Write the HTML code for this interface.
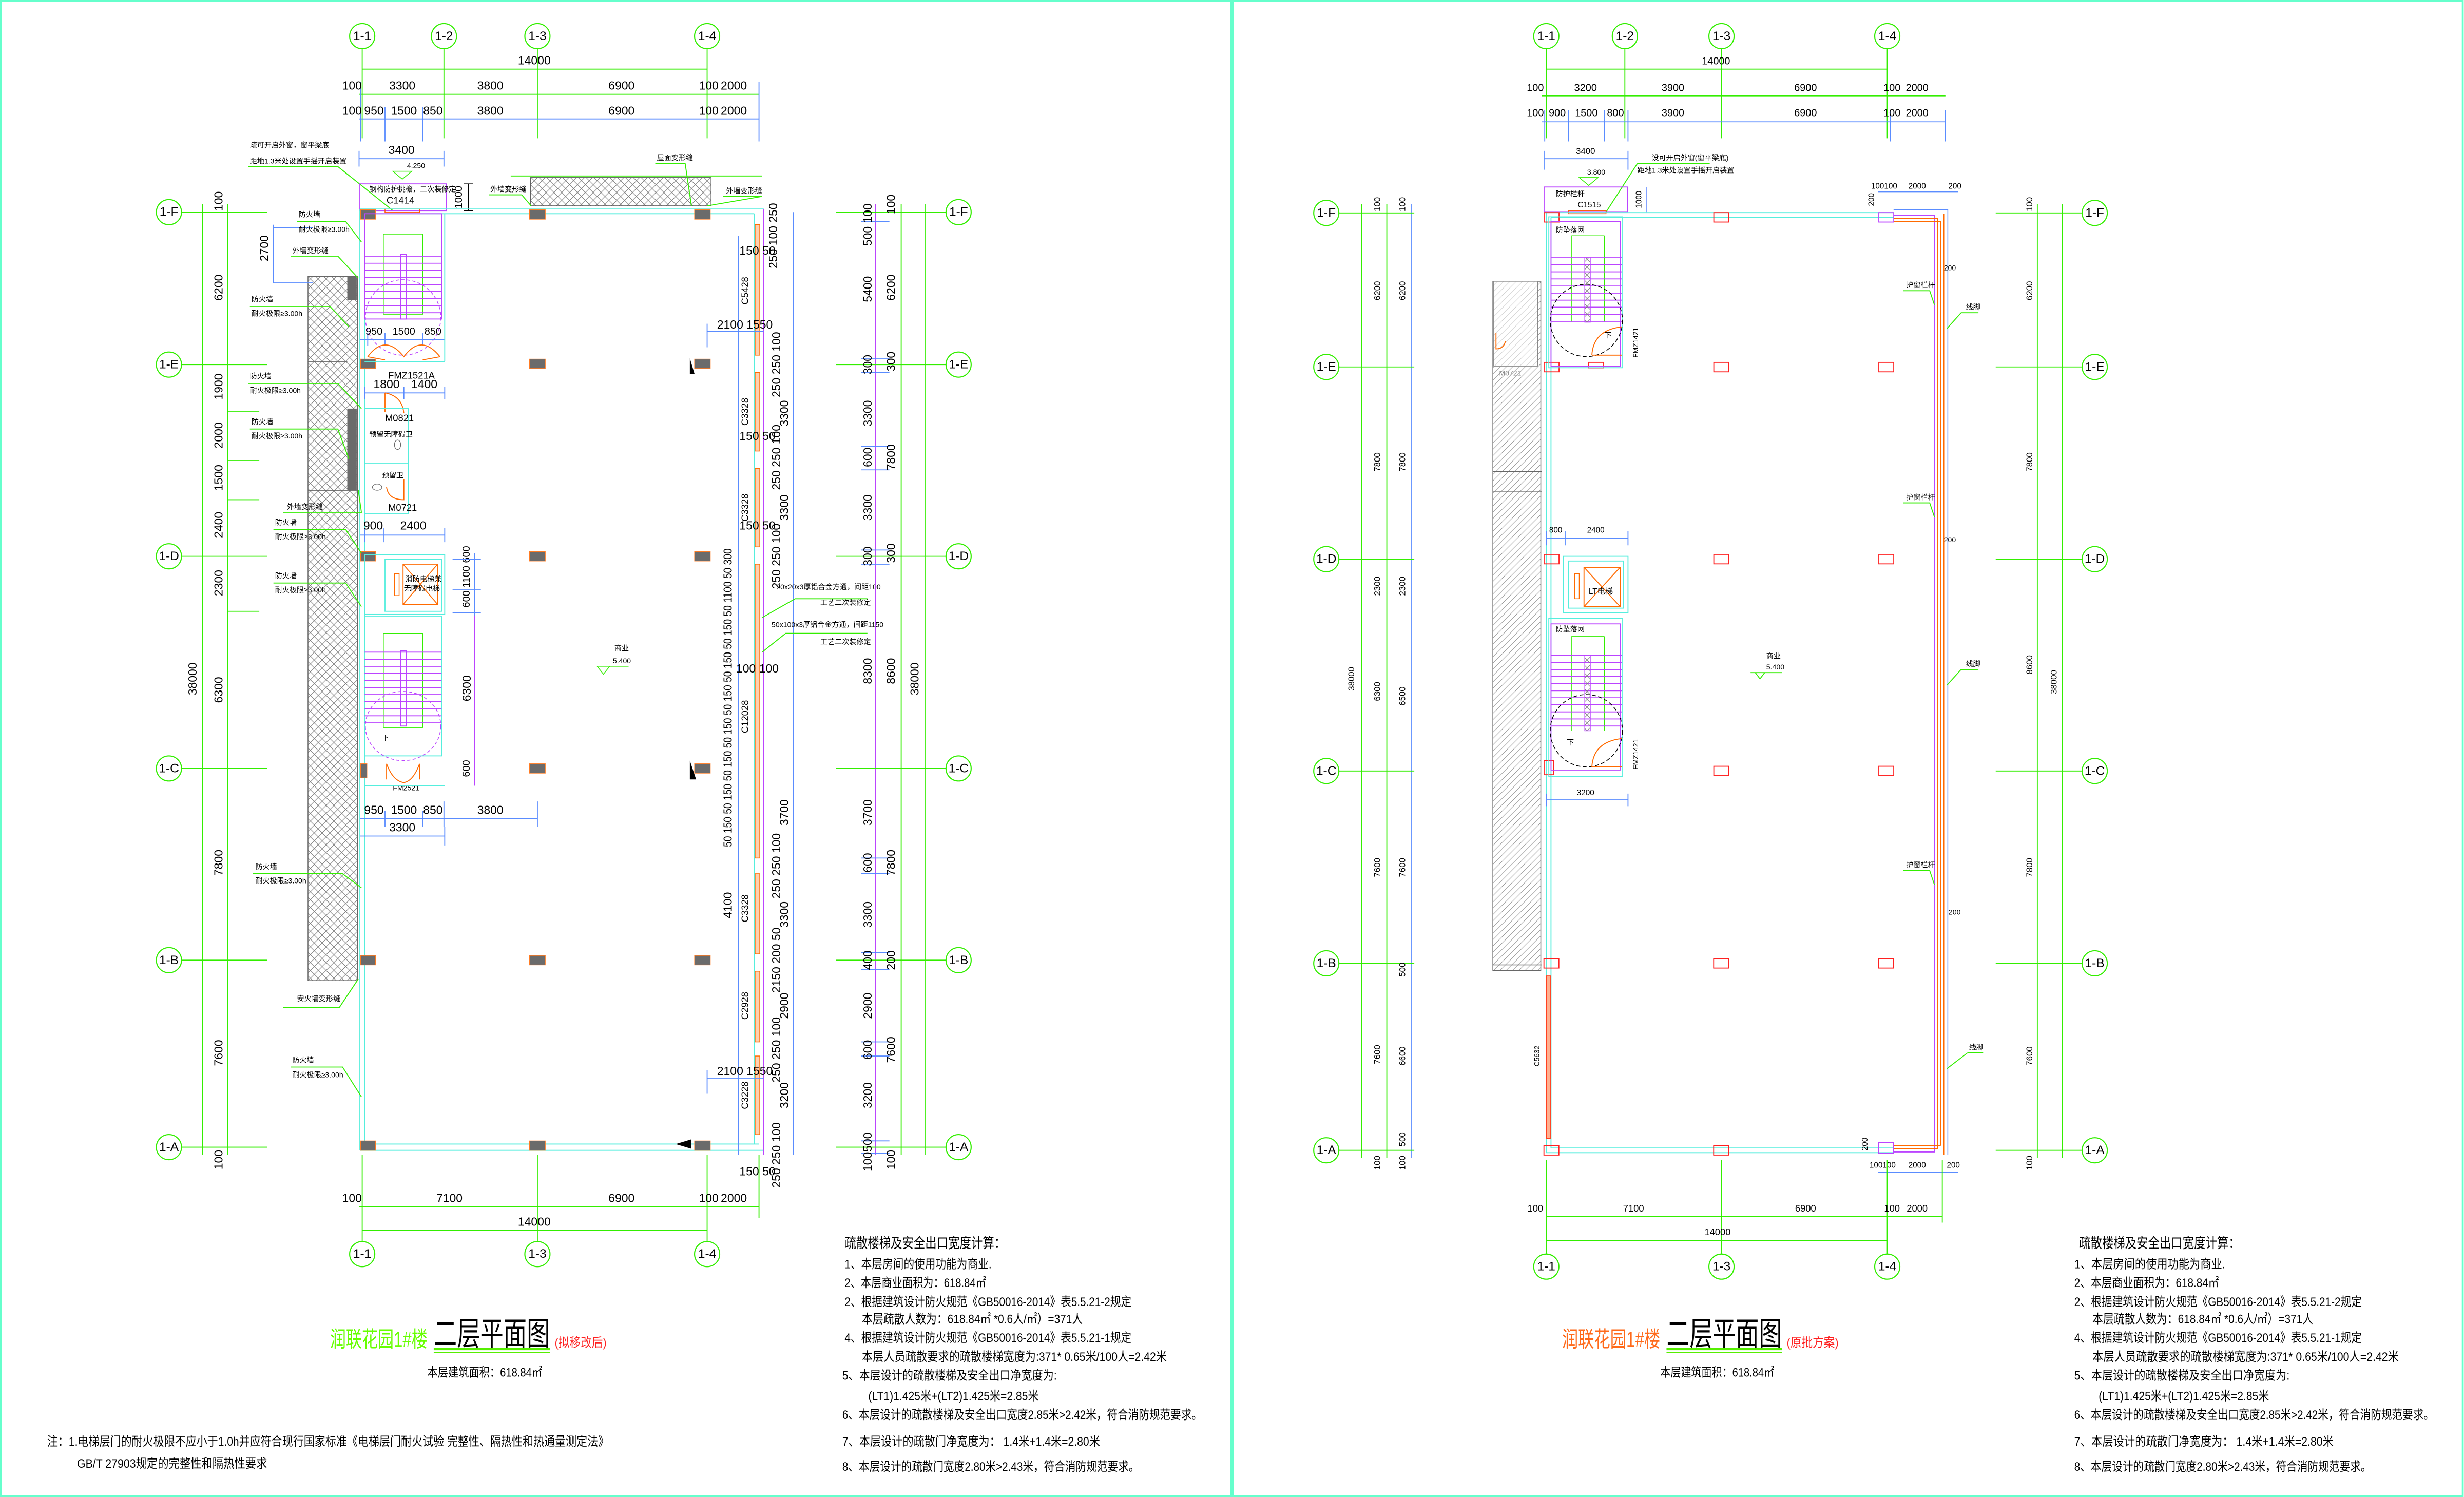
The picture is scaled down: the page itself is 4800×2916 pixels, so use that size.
<!DOCTYPE html>
<html><head><meta charset="utf-8">
<style>
html,body{margin:0;padding:0;background:#fff;}
svg{display:block;}
.d{font-family:"Liberation Sans",sans-serif;font-size:7.5px;text-anchor:middle;fill:#000;}
.r{font-family:"Liberation Sans",sans-serif;font-size:7.5px;text-anchor:middle;dominant-baseline:central;fill:#000;}
.s{font-family:"Liberation Sans","Noto Sans CJK SC",sans-serif;font-size:4.6px;fill:#000;}
.m{font-family:"Liberation Sans","Noto Sans CJK SC",sans-serif;font-size:6px;fill:#000;}
.n{font-family:"Liberation Sans","Noto Sans CJK SC",sans-serif;font-size:8px;fill:#000;}
.b{font-family:"Liberation Sans",sans-serif;font-size:8px;text-anchor:middle;dominant-baseline:central;fill:#000;}
.g{stroke:#33ee00;stroke-width:.6;fill:none;}
.bl{stroke:#5a8cff;stroke-width:.6;fill:none;}
.cy{stroke:#55eedd;stroke-width:.6;fill:none;}
.pu{stroke:#bb44ff;stroke-width:.6;fill:none;}
.or{stroke:#ff6a00;stroke-width:.6;fill:none;}
.col{fill:#6b6b6b;stroke:#ff7a20;stroke-width:.4;}
.rc{fill:none;stroke:#ff2020;stroke-width:.6;}
.bub{fill:#fff;stroke:#33ee00;stroke-width:.7;}
</style></head>
<body>
<svg width="4800" height="2916" viewBox="0 0 1568 952.6" preserveAspectRatio="none" xmlns="http://www.w3.org/2000/svg">
<defs>
<pattern id="xh" patternUnits="userSpaceOnUse" width="5" height="5">
<path d="M0,0L5,5M5,0L0,5" stroke="#777" stroke-width=".35"/>
</pattern>
<pattern id="dh" patternUnits="userSpaceOnUse" width="4" height="4">
<path d="M0,4L4,0M-1,1L1,-1M3,5L5,3" stroke="#888" stroke-width=".3"/>
</pattern>
</defs>
<rect x="0" y="0" width="1568" height="952.6" fill="#fff"/>
<rect x=".6" y=".6" width="783" height="951.4" fill="none" stroke="#66ffcc" stroke-width="1.2"/>
<rect x="784.6" y=".6" width="782.6" height="951.4" fill="none" stroke="#66ffcc" stroke-width="1.2"/>

<!-- ================= LEFT PANEL ================= -->
<g>
<!-- top grid -->
<path class="g" d="M230.5,31V88M282.5,31V88M342,31V88M450,31V88"/>
<path class="g" d="M230.5,44H450M228.5,60H483"/>
<path class="bl" d="M228.5,75.7H483M229.5,52V90M245,68V90M269,68V90M483,52V90"/>
<text class="d" x="340" y="41">14000</text>
<text class="d" x="224" y="57">100</text><text class="d" x="256" y="57">3300</text><text class="d" x="312" y="57">3800</text><text class="d" x="395.5" y="57">6900</text><text class="d" x="451" y="57">100</text><text class="d" x="467" y="57">2000</text>
<text class="d" x="224" y="73">100</text><text class="d" x="238" y="73">950</text><text class="d" x="257" y="73">1500</text><text class="d" x="275.5" y="73">850</text><text class="d" x="312" y="73">3800</text><text class="d" x="395.5" y="73">6900</text><text class="d" x="451" y="73">100</text><text class="d" x="467" y="73">2000</text>
<circle class="bub" cx="230.5" cy="23" r="8"/><text class="b" x="230.5" y="23">1-1</text>
<circle class="bub" cx="282.5" cy="23" r="8"/><text class="b" x="282.5" y="23">1-2</text>
<circle class="bub" cx="342" cy="23" r="8"/><text class="b" x="342" y="23">1-3</text>
<circle class="bub" cx="450" cy="23" r="8"/><text class="b" x="450" y="23">1-4</text>

<!-- 3400 and top labels -->
<path class="bl" d="M228.5,101H282.5M228.5,96V106M282.5,96V106"/>
<text class="d" x="255.5" y="98">3400</text>
<text class="s" x="159" y="94">疏可开启外窗，窗平梁底</text>
<text class="s" x="159" y="104">距地1.3米处设置手摇开启装置</text>
<path class="g" d="M158,106H215L250,134"/>
<text class="s" x="259" y="107">4.250</text>
<path d="M250,109H262L256,114Z" fill="none" stroke="#33ee00" stroke-width=".5"/>
<rect x="229" y="117" width="55" height="17" class="pu"/>
<text class="s" x="235" y="122">钢构防护挑檐，二次装修定</text>
<text class="m" x="246" y="129.5">C1414</text>
<rect x="245" y="133" width="22" height="2.2" fill="none" stroke="#ff5500" stroke-width=".5"/>
<path d="M298,117V134M295,117H301M295,134H301" stroke="#000" stroke-width=".5"/>
<text class="r" transform="translate(292,125.5) rotate(-90)" style="font-size:6.5px">1000</text>
<path class="g" d="M325,112H485"/>
<rect x="337.5" y="113" width="115" height="18" fill="url(#xh)" stroke="#555" stroke-width=".5"/>
<text class="s" x="312" y="122">外墙变形缝</text>
<text class="s" x="418" y="102">屋面变形缝</text>
<text class="s" x="462" y="123">外墙变形缝</text>
<path class="g" d="M311,124H332L338,131M417,104H436L440,131M460,125H485L450,131"/>

<!-- building outline -->
<path class="cy" d="M229,133H486M232,136H480M229,133V732M232,136V728M232,728H483M229,732H486M480,136V728"/>
<path class="pu" d="M486,133V735" style="stroke-width:.8"/>
<path class="bl" d="M470,150V735M505,135V735"/>
<!-- orange window strips right -->
<g fill="#ffd0b0" stroke="#ff6a00" stroke-width=".5">
<rect x="480.5" y="143" width="3" height="83"/>
<rect x="480.5" y="237" width="3" height="50"/>
<rect x="480.5" y="298" width="3" height="50"/>
<rect x="480.5" y="359" width="3" height="187"/>
<rect x="480.5" y="556" width="3" height="51"/>
<rect x="480.5" y="618" width="3" height="45"/>
<rect x="480.5" y="672" width="3" height="50"/>
</g>

<!-- left hatch strip -->
<rect x="196" y="176" width="31.5" height="448" fill="url(#xh)" stroke="#666" stroke-width=".5"/>
<rect x="221" y="176" width="6" height="15" fill="#6b6b6b"/>
<rect x="221" y="260" width="6" height="52" fill="#6b6b6b"/>
<path d="M196,312H227M196,230H221" stroke="#666" stroke-width=".5"/>

<!-- columns -->
<rect class="col" x="229.5" y="133.5" width="9.5" height="6"/><rect class="col" x="337" y="133.5" width="10" height="6"/><rect class="col" x="442" y="133.5" width="10" height="6"/>
<rect class="col" x="229.5" y="228.5" width="9.5" height="6"/><rect class="col" x="337" y="228.5" width="10" height="6"/><rect class="col" x="442" y="228.5" width="10" height="6"/>
<rect class="col" x="229.5" y="351" width="9.5" height="6"/><rect class="col" x="337" y="351" width="10" height="6"/><rect class="col" x="442" y="351" width="10" height="6"/>
<rect class="col" x="229.5" y="486" width="4" height="9"/><rect class="col" x="337" y="486" width="10" height="6"/><rect class="col" x="442" y="486" width="10" height="6"/>
<rect class="col" x="229.5" y="608" width="9.5" height="6"/><rect class="col" x="337" y="608" width="10" height="6"/><rect class="col" x="442" y="608" width="10" height="6"/>
<rect class="col" x="229.5" y="726" width="9.5" height="6"/><rect class="col" x="337" y="726" width="10" height="6"/><rect class="col" x="442" y="726" width="10" height="6"/>
<path d="M439,228V238L442,238Z M439,484V496L443,496Z M430,728L440,725V731Z" fill="#000"/>

<!-- stair 1 -->
<rect x="232" y="136" width="49" height="67" class="pu"/>
<rect x="244" y="149" width="25" height="51" fill="none" stroke="#33ee00" stroke-width=".4"/>
<path class="pu" d="M232,163H281M232,167.5H281M232,172H281M232,176.5H281M232,181H281M232,185.5H281M232,190H281M232,194.5H281M232,199H281"/>
<rect x="255" y="162" width="3.5" height="41" class="pu" fill="#fff"/>
<circle cx="256.5" cy="202" r="24" fill="none" stroke="#bb44ff" stroke-width=".5" stroke-dasharray="2,1.5"/>
<path class="bl" d="M229,216H283M234,212V220M245,212V220M269,212V220"/>
<text class="d" x="238" y="213" style="font-size:6.5px">950</text><text class="d" x="257" y="213" style="font-size:6.5px">1500</text><text class="d" x="275.5" y="213" style="font-size:6.5px">850</text>
<path class="or" d="M234,227Q245,212 257,227Q268,212 280,227M234,227L245,229M280,227L269,229"/>
<path class="cy" d="M232,230H283M283,136V230"/>
<text class="m" x="247" y="241">FMZ1521A</text>
<path class="bl" d="M232,250H283M232,246V254M257,246V254M283,246V254"/>
<text class="d" x="246" y="247">1800</text><text class="d" x="270" y="247">1400</text>
<path class="or" d="M245,250V262M245,250Q256,252 257,263"/>
<rect x="232" y="260" width="28" height="67" class="cy"/>
<path class="cy" d="M232,295H260"/>
<text class="m" x="245" y="268">M0821</text>
<text class="s" x="235" y="278">预留无障碍卫</text>
<text class="s" x="243" y="304">预留卫</text>
<path class="or" d="M257,305V318Q247,318 246,310"/>
<text class="m" x="247" y="325">M0721</text>
<ellipse cx="240" cy="310" rx="3" ry="2" fill="none" stroke="#666" stroke-width=".4"/>
<ellipse cx="253" cy="283" rx="2" ry="3" fill="none" stroke="#666" stroke-width=".4"/>
<path class="bl" d="M229,340.5H283M232,336V345M244,336V345M283,336V345"/>
<text class="d" x="237.5" y="337">900</text><text class="d" x="263" y="337">2400</text>

<!-- elevator -->
<rect x="232" y="353" width="51" height="38" class="cy"/>
<rect x="245" y="356" width="36" height="33" class="cy"/>
<rect x="256.5" y="359" width="22" height="25.6" fill="none" stroke="#ff6a00" stroke-width=".6"/>
<path class="or" d="M256.5,359L278.5,384.6M278.5,359L256.5,384.6"/>
<rect x="251" y="365" width="3" height="14" fill="none" stroke="#ff6a00" stroke-width=".5"/>
<text class="s" x="258" y="370">消防电梯兼</text>
<text class="s" x="257" y="376">无障碍电梯</text>
<text class="r" transform="translate(297,367) rotate(-90)" style="font-size:6.5px">600 1100 600</text>
<path class="bl" d="M302,352V392M288,356H306M288,375H306M288,390H306"/>

<!-- stair 2 -->
<rect x="232" y="392" width="49" height="89" class="cy"/>
<rect x="244" y="403" width="25" height="60" fill="none" stroke="#33ee00" stroke-width=".4"/>
<path class="pu" d="M232,415H281M232,419.5H281M232,424H281M232,428.5H281M232,433H281M232,437.5H281M232,442H281M232,446.5H281M232,451H281M232,455.5H281M232,460H281"/>
<rect x="255" y="414" width="3.5" height="48" class="pu" fill="#fff"/>
<ellipse cx="256.5" cy="462" rx="24" ry="22" fill="none" stroke="#bb44ff" stroke-width=".5" stroke-dasharray="2,1.5"/>
<text class="s" x="243" y="471">下</text>
<path class="or" d="M246,486Q250,497 257,498Q263,497 267,486M246,486V496M267,486V496"/>
<text class="s" x="250" y="503">FM2521</text>
<path class="cy" d="M232,500H283"/>
<path class="bl" d="M229,521H342M245,516V526M269,516V526M282.5,510V526M342,510V526M229,532H283M283,526V538"/>
<text class="d" x="238" y="518">950</text><text class="d" x="257" y="518">1500</text><text class="d" x="275.5" y="518">850</text><text class="d" x="312" y="518">3800</text>
<text class="d" x="256" y="529">3300</text>
<text class="r" transform="translate(297,438) rotate(-90)">6300</text>
<text class="r" transform="translate(297,489) rotate(-90)" style="font-size:6.5px">600</text>
<path class="pu" d="M302,392V500"/>

<!-- window labels / dims right side -->
<text class="r" transform="translate(474,185) rotate(-90)" style="font-size:6px">C5428</text>
<text class="r" transform="translate(474,262) rotate(-90)" style="font-size:6px">C3328</text>
<text class="r" transform="translate(474,323) rotate(-90)" style="font-size:6px">C3328</text>
<text class="r" transform="translate(474,456) rotate(-90)" style="font-size:6px">C12028</text>
<text class="r" transform="translate(474,578) rotate(-90)" style="font-size:6px">C3328</text>
<text class="r" transform="translate(474,640) rotate(-90)" style="font-size:6px">C2928</text>
<text class="r" transform="translate(474,697) rotate(-90)" style="font-size:6px">C3228</text>
<text class="d" x="482" y="162">150 50</text>
<text class="d" x="482" y="280">150 50</text>
<text class="d" x="482" y="337">150 50</text>
<text class="d" x="482" y="428">100 100</text>
<text class="d" x="482" y="748">150 50</text>
<text class="d" x="474" y="209">2100 1550</text>
<text class="d" x="474" y="684">2100 1550</text>
<path class="bl" d="M450,211H486M450,206V221M450,686H486M450,681V696"/>
<text class="r" transform="translate(463,444) rotate(-90)" textLength="190" lengthAdjust="spacingAndGlyphs">50 150 50 150 50 150 50 150 50 150 50 150 50 150 50 1100 50 300</text>
<text class="r" transform="translate(463,576) rotate(-90)">4100</text>
<text class="r" transform="translate(492,150) rotate(-90)">250 100 250</text>
<text class="r" transform="translate(499,263) rotate(-90)">3300</text>
<text class="r" transform="translate(499,323) rotate(-90)">3300</text>
<text class="r" transform="translate(499,517) rotate(-90)">3700</text>
<text class="r" transform="translate(499,582) rotate(-90)">3300</text>
<text class="r" transform="translate(499,640) rotate(-90)">2900</text>
<text class="r" transform="translate(499,697) rotate(-90)">3200</text>
<text class="r" transform="translate(494,232) rotate(-90)">250 250 100</text>
<text class="r" transform="translate(494,291) rotate(-90)">250 250 100</text>
<text class="r" transform="translate(494,354) rotate(-90)">250 250 100</text>
<text class="r" transform="translate(494,551) rotate(-90)">250 250 100</text>
<text class="r" transform="translate(494,611) rotate(-90)">2150 200 50</text>
<text class="r" transform="translate(494,668) rotate(-90)">250 250 100</text>
<text class="r" transform="translate(494,735) rotate(-90)">250 250 100</text>
<text class="s" x="494" y="375">20x20x3厚铝合金方通，间距100</text>
<text class="s" x="522" y="385">工艺二次装修定</text>
<text class="s" x="491" y="399">50x100x3厚铝合金方通，间距1150</text>
<text class="s" x="522" y="410">工艺二次装修定</text>
<path class="g" d="M485,393L506,381H552M485,415L500,403H552"/>

<!-- left axis dims -->
<path class="g" d="M129,130V735M145,130V735"/>
<path class="g" d="M115,135H170M115,232H170M115,354H170M115,489H170M115,611H170M115,730H170M145,262H165M145,293H165M145,318H165M145,389H165"/>
<text class="r" transform="translate(139,128) rotate(-90)">100</text>
<text class="r" transform="translate(139,183) rotate(-90)">6200</text>
<text class="r" transform="translate(139,246) rotate(-90)">1900</text>
<text class="r" transform="translate(139,277) rotate(-90)">2000</text>
<text class="r" transform="translate(139,304) rotate(-90)">1500</text>
<text class="r" transform="translate(139,334) rotate(-90)">2400</text>
<text class="r" transform="translate(139,371) rotate(-90)">2300</text>
<text class="r" transform="translate(139,439) rotate(-90)">6300</text>
<text class="r" transform="translate(139,549) rotate(-90)">7800</text>
<text class="r" transform="translate(139,670) rotate(-90)">7600</text>
<text class="r" transform="translate(139,738) rotate(-90)">100</text>
<text class="r" transform="translate(122.5,432) rotate(-90)">38000</text>
<path class="bl" d="M174,145H199M174,143V180M174,180H199"/>
<text class="r" transform="translate(168,158) rotate(-90)">2700</text>
<circle class="bub" cx="107.5" cy="135" r="8"/><text class="b" x="107.5" y="135">1-F</text>
<circle class="bub" cx="107.5" cy="232" r="8"/><text class="b" x="107.5" y="232">1-E</text>
<circle class="bub" cx="107.5" cy="354" r="8"/><text class="b" x="107.5" y="354">1-D</text>
<circle class="bub" cx="107.5" cy="489" r="8"/><text class="b" x="107.5" y="489">1-C</text>
<circle class="bub" cx="107.5" cy="611" r="8"/><text class="b" x="107.5" y="611">1-B</text>
<circle class="bub" cx="107.5" cy="730" r="8"/><text class="b" x="107.5" y="730">1-A</text>

<!-- left labels -->
<g class="s">
<text x="190" y="138">防火墙</text><text x="190" y="147.5">耐火极限≥3.00h</text>
<text x="186" y="161">外墙变形缝</text>
<text x="160" y="192">防火墙</text><text x="160" y="201">耐火极限≥3.00h</text>
<text x="159" y="241">防火墙</text><text x="159" y="250">耐火极限≥3.00h</text>
<text x="160" y="270">防火墙</text><text x="160" y="279">耐火极限≥3.00h</text>
<text x="182.5" y="324">外墙变形缝</text>
<text x="175" y="334">防火墙</text><text x="175" y="343">耐火极限≥3.00h</text>
<text x="175" y="368">防火墙</text><text x="175" y="377">耐火极限≥3.00h</text>
<text x="162.5" y="553">防火墙</text><text x="162.5" y="562">耐火极限≥3.00h</text>
<text x="189" y="637">安火墙变形缝</text>
<text x="186" y="676">防火墙</text><text x="186" y="685.5">耐火极限≥3.00h</text>
</g>
<path class="g" d="M189,141H220L230,154M185,163H215L228,177M159,195H210L222,208M158,244H215L230,260M159,273H215L222,292M180,326H230L228,312M174,337H220L230,352M174,371H220L230,386M161,556H218L230,565M180,641H216L228,623M185,679H218L230,698"/>

<!-- right axis dims -->
<path class="pu" d="M557,130V735"/>
<path class="g" d="M573.5,130V735M589,130V735"/>
<path class="g" d="M532,135H602M532,232H602M532,354H602M532,489H602M532,611H602M532,730H602"/>
<path class="bl" d="M548,141H566M548,228H566M548,237H566M548,284H566M548,299H566M548,350H566M548,359H566M548,546H566M548,556H566M548,606H566M548,617H566M548,663H566M548,672H566M548,726H566M548,734H566"/>
<text class="r" transform="translate(552,143) rotate(-90)">500 100</text>
<text class="r" transform="translate(552,184) rotate(-90)">5400</text>
<text class="r" transform="translate(552,232) rotate(-90)">300</text>
<text class="r" transform="translate(552,263) rotate(-90)">3300</text>
<text class="r" transform="translate(552,291) rotate(-90)">600</text>
<text class="r" transform="translate(552,323) rotate(-90)">3300</text>
<text class="r" transform="translate(552,354) rotate(-90)">300</text>
<text class="r" transform="translate(552,427) rotate(-90)">8300</text>
<text class="r" transform="translate(552,517) rotate(-90)">3700</text>
<text class="r" transform="translate(552,549) rotate(-90)">600</text>
<text class="r" transform="translate(552,582) rotate(-90)">3300</text>
<text class="r" transform="translate(552,611) rotate(-90)">400</text>
<text class="r" transform="translate(552,640) rotate(-90)">2900</text>
<text class="r" transform="translate(552,668) rotate(-90)">600</text>
<text class="r" transform="translate(552,697) rotate(-90)">3200</text>
<text class="r" transform="translate(552,733) rotate(-90)">100500</text>
<text class="r" transform="translate(567,130) rotate(-90)">100</text>
<text class="r" transform="translate(567,183) rotate(-90)">6200</text>
<text class="r" transform="translate(567,230) rotate(-90)">300</text>
<text class="r" transform="translate(567,291) rotate(-90)">7800</text>
<text class="r" transform="translate(567,352) rotate(-90)">300</text>
<text class="r" transform="translate(567,427) rotate(-90)">8600</text>
<text class="r" transform="translate(567,549) rotate(-90)">7800</text>
<text class="r" transform="translate(567,611) rotate(-90)">200</text>
<text class="r" transform="translate(567,668) rotate(-90)">7600</text>
<text class="r" transform="translate(567,738) rotate(-90)">100</text>
<text class="r" transform="translate(582,432) rotate(-90)">38000</text>
<circle class="bub" cx="610" cy="135" r="8"/><text class="b" x="610" y="135">1-F</text>
<circle class="bub" cx="610" cy="232" r="8"/><text class="b" x="610" y="232">1-E</text>
<circle class="bub" cx="610" cy="354" r="8"/><text class="b" x="610" y="354">1-D</text>
<circle class="bub" cx="610" cy="489" r="8"/><text class="b" x="610" y="489">1-C</text>
<circle class="bub" cx="610" cy="611" r="8"/><text class="b" x="610" y="611">1-B</text>
<circle class="bub" cx="610" cy="730" r="8"/><text class="b" x="610" y="730">1-A</text>

<!-- elevation -->
<text class="s" x="391" y="414">商业</text>
<text class="s" x="390" y="422">5.400</text>
<path d="M380,424H400M380,424L384,429L388,424" fill="none" stroke="#33ee00" stroke-width=".5"/>

<!-- bottom dims -->
<path class="g" d="M230.5,735V792M342,735V792M450,735V792M483,735V775M228.5,768H483M230.5,783H450"/>
<text class="d" x="224" y="765">100</text><text class="d" x="286" y="765">7100</text><text class="d" x="395.5" y="765">6900</text><text class="d" x="451" y="765">100</text><text class="d" x="467" y="765">2000</text>
<text class="d" x="340" y="780">14000</text>
<circle class="bub" cx="230.5" cy="798" r="8"/><text class="b" x="230.5" y="798">1-1</text>
<circle class="bub" cx="342" cy="798" r="8"/><text class="b" x="342" y="798">1-3</text>
<circle class="bub" cx="450" cy="798" r="8"/><text class="b" x="450" y="798">1-4</text>

<!-- title -->
<text x="210" y="857" textLength="62" lengthAdjust="spacingAndGlyphs" style="font-family:'Liberation Sans','Noto Sans CJK SC',sans-serif;font-size:14px;fill:#66ff00">润联花园1#楼</text>
<text x="276" y="856" textLength="74" lengthAdjust="spacingAndGlyphs" style="font-family:'Liberation Sans','Noto Sans CJK SC',sans-serif;font-size:21px;fill:#000">二层平面图</text>
<text x="353" y="857" textLength="33" lengthAdjust="spacingAndGlyphs" style="font-family:'Liberation Sans','Noto Sans CJK SC',sans-serif;font-size:8px;fill:#ff2020">(拟移改后)</text>
<rect x="276" y="857.6" width="74" height="1.6" fill="#55ee00"/>
<rect x="276" y="860.3" width="74" height=".6" fill="#55ee00"/>
<text class="n" x="272" y="876" textLength="73" lengthAdjust="spacingAndGlyphs">本层建筑面积：618.84㎡</text>

<!-- notes -->
<g class="n">
<text x="537.5" y="794" textLength="102.5" lengthAdjust="spacingAndGlyphs" style="font-size:9px">疏散楼梯及安全出口宽度计算：</text>
<text x="537.5" y="807" textLength="93.5" lengthAdjust="spacingAndGlyphs">1、本层房间的使用功能为商业.</text>
<text x="537.5" y="819" textLength="90" lengthAdjust="spacingAndGlyphs">2、本层商业面积为：618.84㎡</text>
<text x="537.5" y="831" textLength="182.5" lengthAdjust="spacingAndGlyphs">2、根据建筑设计防火规范《GB50016-2014》表5.5.21-2规定</text>
<text x="548.5" y="842" textLength="140.5" lengthAdjust="spacingAndGlyphs">本层疏散人数为：618.84㎡ *0.6人/㎡）=371人</text>
<text x="537.5" y="854" textLength="182.5" lengthAdjust="spacingAndGlyphs">4、根据建筑设计防火规范《GB50016-2014》表5.5.21-1规定</text>
<text x="548.5" y="866" textLength="194" lengthAdjust="spacingAndGlyphs">本层人员疏散要求的疏散楼梯宽度为:371* 0.65米/100人=2.42米</text>
<text x="536" y="878" textLength="136.5" lengthAdjust="spacingAndGlyphs">5、本层设计的疏散楼梯及安全出口净宽度为:</text>
<text x="552.5" y="891" textLength="108.5" lengthAdjust="spacingAndGlyphs">(LT1)1.425米+(LT2)1.425米=2.85米</text>
<text x="536" y="903" textLength="229" lengthAdjust="spacingAndGlyphs">6、本层设计的疏散楼梯及安全出口宽度2.85米&gt;2.42米，符合消防规范要求。</text>
<text x="536" y="920" textLength="164" lengthAdjust="spacingAndGlyphs">7、本层设计的疏散门净宽度为： 1.4米+1.4米=2.80米</text>
<text x="536" y="936" textLength="189" lengthAdjust="spacingAndGlyphs">8、本层设计的疏散门宽度2.80米&gt;2.43米，符合消防规范要求。</text>
<text x="30" y="920" textLength="357.5" lengthAdjust="spacingAndGlyphs">注：1.电梯层门的耐火极限不应小于1.0h并应符合现行国家标准《电梯层门耐火试验 完整性、隔热性和热通量测定法》</text>
<text x="49" y="934" textLength="121" lengthAdjust="spacingAndGlyphs">GB/T 27903规定的完整性和隔热性要求</text>
</g>
</g>

<!-- ================= RIGHT PANEL ================= -->
<g>
<path class="g" d="M984,31V88M1034,31V88M1095.5,31V88M1201,31V88"/>
<path class="g" d="M984,44H1201M981,61H1238"/>
<path class="bl" d="M981,77.5H1238M983,70V90M998,70V90M1021,70V90M1036,70V90M1203,70V90M1238,70V90"/>
<text class="d" x="1092" y="41" style="font-size:6.5px">14000</text>
<g style="font-size:6.5px">
<text class="d" x="977" y="58" style="font-size:6.5px">100</text><text class="d" x="1009" y="58" style="font-size:6.5px">3200</text><text class="d" x="1064.6" y="58" style="font-size:6.5px">3900</text><text class="d" x="1149" y="58" style="font-size:6.5px">6900</text><text class="d" x="1204" y="58" style="font-size:6.5px">100</text><text class="d" x="1220" y="58" style="font-size:6.5px">2000</text>
<text class="d" x="977" y="74" style="font-size:6.5px">100</text><text class="d" x="991" y="74" style="font-size:6.5px">900</text><text class="d" x="1009.5" y="74" style="font-size:6.5px">1500</text><text class="d" x="1028" y="74" style="font-size:6.5px">800</text><text class="d" x="1064.6" y="74" style="font-size:6.5px">3900</text><text class="d" x="1149" y="74" style="font-size:6.5px">6900</text><text class="d" x="1204" y="74" style="font-size:6.5px">100</text><text class="d" x="1220" y="74" style="font-size:6.5px">2000</text>
</g>
<circle class="bub" cx="984" cy="23" r="8"/><text class="b" x="984" y="23">1-1</text>
<circle class="bub" cx="1034" cy="23" r="8"/><text class="b" x="1034" y="23">1-2</text>
<circle class="bub" cx="1095.5" cy="23" r="8"/><text class="b" x="1095.5" y="23">1-3</text>
<circle class="bub" cx="1201" cy="23" r="8"/><text class="b" x="1201" y="23">1-4</text>

<path class="bl" d="M982.6,101H1036M982.6,96V108M1036,96V108"/>
<text class="d" x="1009" y="98" style="font-size:5.5px">3400</text>
<text class="s" x="1051" y="102">设可开启外窗(窗平梁底)</text>
<text class="s" x="1042" y="110">距地1.3米处设置手摇开启装置</text>
<path class="g" d="M1042,104H1088M1042,104L1022,135"/>
<text class="s" x="1010" y="111">3.800</text>
<path d="M1005,113H1017L1011,118Z" fill="none" stroke="#33ee00" stroke-width=".5"/>
<rect x="982.6" y="119" width="53" height="15.7" class="pu"/>
<text class="s" x="990" y="125">防护栏杆</text>
<text class="m" x="1004" y="132" style="font-size:5px">C1515</text>
<rect x="998" y="134" width="24" height="2" fill="none" stroke="#ff5500" stroke-width=".5"/>
<path d="M1048,119V135" stroke="#3366ff" stroke-width=".5"/>
<text class="r" transform="translate(1043,127) rotate(-90)" style="font-size:5px">1000</text>
<text class="d" x="1199" y="120" style="font-size:5px">100100</text><text class="d" x="1220" y="120" style="font-size:5px">2000</text><text class="d" x="1244" y="120" style="font-size:5px">200</text>
<path class="bl" d="M1195,122H1246"/>
<text class="r" transform="translate(1191,127) rotate(-90)" style="font-size:5px">200</text>

<!-- building -->
<path class="cy" d="M982.6,135.3H1205M987,138.5H1205M984,135V733.5M987,138.5V730.5M987,730.5H1205M984,733.5H1205"/>
<path class="pu" d="M1205,137H1231V733H1205" style="stroke-width:.7"/>
<path d="M1205,139H1233V731H1205M1205,141H1235V729M1205,729H1235M1237,136V735" fill="none" stroke="#ff6a00" stroke-width=".5"/>
<path d="M1205,133.5H1239.5V735" fill="none" stroke="#5a8cff" stroke-width=".5"/>
<!-- hatch strip -->
<rect x="950" y="179" width="30.5" height="438.5" fill="url(#dh)" stroke="#666" stroke-width=".5"/>
<rect x="950.5" y="179" width="28" height="54" fill="#fff" fill-opacity=".55" stroke="#888" stroke-width=".4"/>
<path d="M950,300H981M950,313H981M950,614H981" stroke="#666" stroke-width=".5"/>
<path class="or" d="M952,212V222Q957,222 958,217"/>
<text class="s" x="954" y="239" style="fill:#888">M0721</text>
<!-- columns -->
<g>
<rect class="rc" x="982.6" y="135.3" width="9.5" height="6"/><rect class="rc" x="1090.6" y="135.3" width="9.5" height="6"/><rect class="rc" x="1195.6" y="135.3" width="9.5" height="6" style="stroke:#bb44ff"/>
<rect class="rc" x="982.6" y="230.6" width="9.5" height="6"/><rect class="rc" x="1090.6" y="230.6" width="9.5" height="6"/><rect class="rc" x="1195.6" y="230.6" width="9.5" height="6"/>
<rect class="rc" x="982.6" y="352.8" width="9.5" height="6"/><rect class="rc" x="1090.6" y="352.8" width="9.5" height="6"/><rect class="rc" x="1195.6" y="352.8" width="9.5" height="6"/>
<rect class="rc" x="982.6" y="484" width="6" height="9"/><rect class="rc" x="1090.6" y="487.6" width="9.5" height="6"/><rect class="rc" x="1195.6" y="487.6" width="9.5" height="6"/>
<rect class="rc" x="982.5" y="610" width="9.5" height="6"/><rect class="rc" x="1090.5" y="610" width="9.5" height="6"/><rect class="rc" x="1195.5" y="610" width="9.5" height="6"/>
<rect class="rc" x="982.5" y="729" width="9.5" height="6"/><rect class="rc" x="1090.5" y="729" width="9.5" height="6"/><rect class="rc" x="1195.5" y="727" width="9.5" height="7" style="stroke:#bb44ff"/>
<rect class="rc" x="1011" y="230.6" width="9.5" height="3.5"/>
</g>
<!-- stair 1 -->
<rect x="985.6" y="138" width="47" height="96" class="cy"/>
<rect x="987" y="141" width="44" height="92" class="pu"/>
<path d="M1000,150V205M1021,150V205M1000,150H1021" fill="none" stroke="#33ee00" stroke-width=".4"/>
<path class="pu" d="M987,164H1032M987,168.5H1032M987,173H1032M987,177.5H1032M987,182H1032M987,186.5H1032M987,191H1032M987,195.5H1032M987,200H1032M987,204.5H1032"/>
<rect x="1008.5" y="164" width="3.5" height="41" fill="url(#xh)" stroke="#bb44ff" stroke-width=".5"/>
<circle cx="1009.5" cy="203.9" r="23" fill="none" stroke="#000" stroke-width=".5" stroke-dasharray="2.5,1.5"/>
<path class="or" d="M1013,226Q1014,210 1032,208M1013,226H1032"/>
<text class="s" x="990" y="148">防坠落网</text>
<text class="s" x="1021" y="215">下</text>
<text class="r" transform="translate(1041,218) rotate(-90)" style="font-size:4.5px">FMZ1421</text>
<!-- elevator -->
<path class="bl" d="M984,342.4H1036M984,338V347M996,338V347M1036,338V347"/>
<text class="d" x="990" y="339" style="font-size:5px">800</text><text class="d" x="1015.5" y="339" style="font-size:5px">2400</text>
<rect x="995" y="354" width="41" height="36" class="cy"/>
<rect x="998" y="357" width="35" height="30" class="cy"/>
<rect x="1008" y="361" width="23" height="25" fill="none" stroke="#ff6a00" stroke-width=".6"/>
<path class="or" d="M1008,361L1031,386M1031,361L1008,386"/>
<rect x="1002" y="365" width="3" height="16" fill="none" stroke="#ff6a00" stroke-width=".5"/>
<text class="s" x="1011" y="378" style="font-size:5px">LT电梯</text>
<!-- stair 2 -->
<rect x="985.6" y="393.5" width="47" height="100.5" class="cy"/>
<rect x="987" y="397" width="44" height="93" class="pu"/>
<path d="M1000,405V465M1021,405V465M1000,405H1021" fill="none" stroke="#33ee00" stroke-width=".4"/>
<path class="pu" d="M987,417H1032M987,421.5H1032M987,426H1032M987,430.5H1032M987,435H1032M987,439.5H1032M987,444H1032M987,448.5H1032M987,453H1032M987,457.5H1032M987,462H1032"/>
<rect x="1008.5" y="417" width="3.5" height="48" fill="url(#xh)" stroke="#bb44ff" stroke-width=".5"/>
<circle cx="1009.5" cy="465" r="23" fill="none" stroke="#000" stroke-width=".5" stroke-dasharray="2.5,1.5"/>
<path class="or" d="M1013,488Q1014,472 1032,470M1013,488H1032"/>
<text class="s" x="990" y="402">防坠落网</text>
<text class="s" x="997" y="474">下</text>
<text class="r" transform="translate(1041,480) rotate(-90)" style="font-size:4.5px">FMZ1421</text>
<path class="bl" d="M984,509H1036M984,505V513M1036,505V513"/>
<text class="d" x="1009" y="506" style="font-size:5px">3200</text>
<!-- lower left window -->
<rect x="984" y="621" width="2.8" height="103.5" fill="#ffb090" stroke="#ff4020" stroke-width=".5"/>
<text class="r" transform="translate(978,672) rotate(-90)" style="font-size:4.5px">C5632</text>
<!-- labels -->
<g class="s">
<text x="1213" y="183">护窗栏杆</text>
<text x="1213" y="318">护窗栏杆</text>
<text x="1213" y="552">护窗栏杆</text>
<text x="1251" y="197">线脚</text>
<text x="1251" y="424">线脚</text>
<text x="1253" y="668">线脚</text>
<text x="1237" y="172">200</text>
<text x="1237" y="345">200</text>
<text x="1240" y="582">200</text>
<text x="1124" y="419">商业</text>
<text x="1124" y="426">5.400</text>
</g>
<path class="g" d="M1211,185H1228L1231,194M1211,320H1228L1231,329M1211,554H1228L1231,563M1248,199H1259M1248,199L1239,209M1248,426H1259M1248,426L1239,436M1252,670H1262M1252,670L1239,680M1114,428H1134M1117,428L1120,432L1123,428"/>
<!-- left dims -->
<path class="g" d="M866.5,130V737M882.5,130V737"/>
<path class="bl" d="M898,130V737"/>
<path class="g" d="M852,135.5H900M852,233.5H900M852,355.8H900M852,490.6H900M852,613H900M852,732H900"/>
<text class="r" transform="translate(876.5,130) rotate(-90)" style="font-size:5.5px">100</text>
<text class="r" transform="translate(876.5,185) rotate(-90)" style="font-size:5.5px">6200</text>
<text class="r" transform="translate(876.5,294) rotate(-90)" style="font-size:5.5px">7800</text>
<text class="r" transform="translate(876.5,373) rotate(-90)" style="font-size:5.5px">2300</text>
<text class="r" transform="translate(876.5,440) rotate(-90)" style="font-size:5.5px">6300</text>
<text class="r" transform="translate(876.5,552) rotate(-90)" style="font-size:5.5px">7600</text>
<text class="r" transform="translate(876.5,671) rotate(-90)" style="font-size:5.5px">7600</text>
<text class="r" transform="translate(876.5,740) rotate(-90)" style="font-size:5.5px">100</text>
<text class="r" transform="translate(892.5,130) rotate(-90)" style="font-size:5.5px">100</text>
<text class="r" transform="translate(892.5,185) rotate(-90)" style="font-size:5.5px">6200</text>
<text class="r" transform="translate(892.5,294) rotate(-90)" style="font-size:5.5px">7800</text>
<text class="r" transform="translate(892.5,373) rotate(-90)" style="font-size:5.5px">2300</text>
<text class="r" transform="translate(892.5,443) rotate(-90)" style="font-size:5.5px">6500</text>
<text class="r" transform="translate(892.5,552) rotate(-90)" style="font-size:5.5px">7600</text>
<text class="r" transform="translate(892.5,617) rotate(-90)" style="font-size:5.5px">500</text>
<text class="r" transform="translate(892.5,672) rotate(-90)" style="font-size:5.5px">6600</text>
<text class="r" transform="translate(892.5,725) rotate(-90)" style="font-size:5.5px">500</text>
<text class="r" transform="translate(892.5,740) rotate(-90)" style="font-size:5.5px">100</text>
<text class="r" transform="translate(860,432) rotate(-90)" style="font-size:5.5px">38000</text>
<circle class="bub" cx="844" cy="135.5" r="8"/><text class="b" x="844" y="135.5">1-F</text>
<circle class="bub" cx="844" cy="233.5" r="8"/><text class="b" x="844" y="233.5">1-E</text>
<circle class="bub" cx="844" cy="355.8" r="8"/><text class="b" x="844" y="355.8">1-D</text>
<circle class="bub" cx="844" cy="490.6" r="8"/><text class="b" x="844" y="490.6">1-C</text>
<circle class="bub" cx="844" cy="613" r="8"/><text class="b" x="844" y="613">1-B</text>
<circle class="bub" cx="844" cy="732" r="8"/><text class="b" x="844" y="732">1-A</text>
<!-- right dims -->
<path class="g" d="M1296.5,130V737M1312.5,130V737M1270,135.5H1325M1270,233.5H1325M1270,355.8H1325M1270,490.6H1325M1270,613H1325M1270,732H1325"/>
<text class="r" transform="translate(1291.5,130) rotate(-90)" style="font-size:5.5px">100</text>
<text class="r" transform="translate(1291.5,185) rotate(-90)" style="font-size:5.5px">6200</text>
<text class="r" transform="translate(1291.5,294) rotate(-90)" style="font-size:5.5px">7800</text>
<text class="r" transform="translate(1291.5,423) rotate(-90)" style="font-size:5.5px">8600</text>
<text class="r" transform="translate(1291.5,552) rotate(-90)" style="font-size:5.5px">7800</text>
<text class="r" transform="translate(1291.5,672) rotate(-90)" style="font-size:5.5px">7600</text>
<text class="r" transform="translate(1291.5,740) rotate(-90)" style="font-size:5.5px">100</text>
<text class="r" transform="translate(1307,434) rotate(-90)" style="font-size:5.5px">38000</text>
<circle class="bub" cx="1333" cy="135.5" r="8"/><text class="b" x="1333" y="135.5">1-F</text>
<circle class="bub" cx="1333" cy="233.5" r="8"/><text class="b" x="1333" y="233.5">1-E</text>
<circle class="bub" cx="1333" cy="355.8" r="8"/><text class="b" x="1333" y="355.8">1-D</text>
<circle class="bub" cx="1333" cy="490.6" r="8"/><text class="b" x="1333" y="490.6">1-C</text>
<circle class="bub" cx="1333" cy="613" r="8"/><text class="b" x="1333" y="613">1-B</text>
<circle class="bub" cx="1333" cy="732" r="8"/><text class="b" x="1333" y="732">1-A</text>
<!-- bottom dims -->
<text class="d" x="1198" y="743" style="font-size:5px">100100</text><text class="d" x="1220" y="743" style="font-size:5px">2000</text><text class="d" x="1243" y="743" style="font-size:5px">200</text>
<path class="bl" d="M1195,746H1246"/>
<text class="r" transform="translate(1187,728) rotate(-90)" style="font-size:5px">200</text>
<path class="g" d="M984,738V806M1095.5,738V806M1201,738V806M1236,738V778M984,774H1236M984,789.5H1201"/>
<text class="d" x="977" y="771" style="font-size:6px">100</text><text class="d" x="1039.5" y="771" style="font-size:6px">7100</text><text class="d" x="1149" y="771" style="font-size:6px">6900</text><text class="d" x="1204" y="771" style="font-size:6px">100</text><text class="d" x="1220" y="771" style="font-size:6px">2000</text>
<text class="d" x="1093" y="786" style="font-size:6px">14000</text>
<circle class="bub" cx="984" cy="806" r="8"/><text class="b" x="984" y="806">1-1</text>
<circle class="bub" cx="1095.5" cy="806" r="8"/><text class="b" x="1095.5" y="806">1-3</text>
<circle class="bub" cx="1201" cy="806" r="8"/><text class="b" x="1201" y="806">1-4</text>
<!-- title -->
<text x="994" y="857" textLength="62.5" lengthAdjust="spacingAndGlyphs" style="font-family:'Liberation Sans','Noto Sans CJK SC',sans-serif;font-size:14px;fill:#ff6a1a">润联花园1#楼</text>
<text x="1060.5" y="856" textLength="73.5" lengthAdjust="spacingAndGlyphs" style="font-family:'Liberation Sans','Noto Sans CJK SC',sans-serif;font-size:21px;fill:#000">二层平面图</text>
<text x="1137" y="857" textLength="33" lengthAdjust="spacingAndGlyphs" style="font-family:'Liberation Sans','Noto Sans CJK SC',sans-serif;font-size:8px;fill:#ff2020">(原批方案)</text>
<rect x="1060.5" y="857.6" width="73.5" height="1.6" fill="#55ee00"/>
<rect x="1060.5" y="860.3" width="73.5" height=".6" fill="#55ee00"/>
<text class="n" x="1056.5" y="876" textLength="72.5" lengthAdjust="spacingAndGlyphs">本层建筑面积：618.84㎡</text>
<g class="n">
<text x="1323" y="794" textLength="102.5" lengthAdjust="spacingAndGlyphs" style="font-size:9px">疏散楼梯及安全出口宽度计算：</text>
<text x="1320" y="807" textLength="96" lengthAdjust="spacingAndGlyphs">1、本层房间的使用功能为商业.</text>
<text x="1320" y="819" textLength="92" lengthAdjust="spacingAndGlyphs">2、本层商业面积为：618.84㎡</text>
<text x="1320" y="831" textLength="183" lengthAdjust="spacingAndGlyphs">2、根据建筑设计防火规范《GB50016-2014》表5.5.21-2规定</text>
<text x="1331.5" y="842" textLength="140.5" lengthAdjust="spacingAndGlyphs">本层疏散人数为：618.84㎡ *0.6人/㎡）=371人</text>
<text x="1320" y="854" textLength="183" lengthAdjust="spacingAndGlyphs">4、根据建筑设计防火规范《GB50016-2014》表5.5.21-1规定</text>
<text x="1331.5" y="866" textLength="195" lengthAdjust="spacingAndGlyphs">本层人员疏散要求的疏散楼梯宽度为:371* 0.65米/100人=2.42米</text>
<text x="1320" y="878" textLength="137" lengthAdjust="spacingAndGlyphs">5、本层设计的疏散楼梯及安全出口净宽度为:</text>
<text x="1335.5" y="891" textLength="108.5" lengthAdjust="spacingAndGlyphs">(LT1)1.425米+(LT2)1.425米=2.85米</text>
<text x="1320" y="903" textLength="229" lengthAdjust="spacingAndGlyphs">6、本层设计的疏散楼梯及安全出口宽度2.85米&gt;2.42米，符合消防规范要求。</text>
<text x="1320" y="920" textLength="165" lengthAdjust="spacingAndGlyphs">7、本层设计的疏散门净宽度为： 1.4米+1.4米=2.80米</text>
<text x="1320" y="936" textLength="189" lengthAdjust="spacingAndGlyphs">8、本层设计的疏散门宽度2.80米&gt;2.43米，符合消防规范要求。</text>
</g>
</g>
</svg>
</body></html>
